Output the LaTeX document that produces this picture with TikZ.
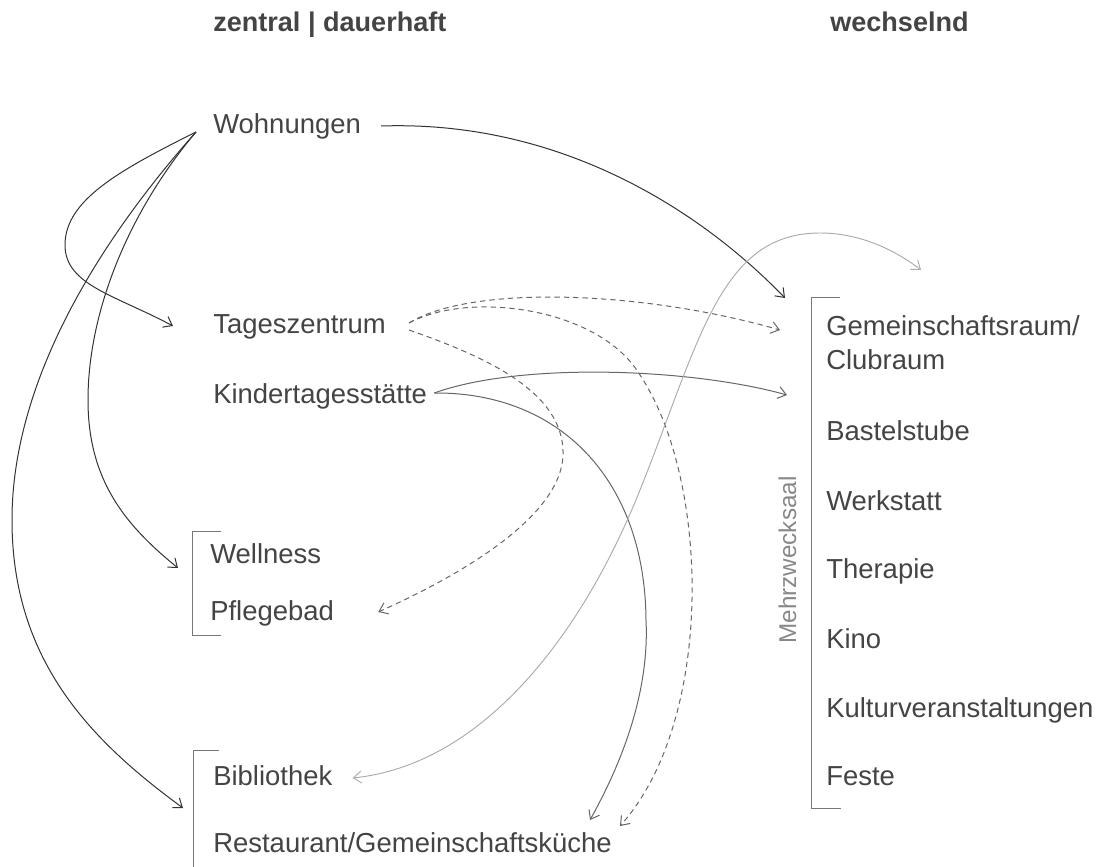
\documentclass[tikz,border=0pt]{standalone}
\usepackage{fontspec}
\setmainfont{Liberation Sans}
\usepackage{tikz}
\usetikzlibrary{arrows.meta}
\definecolor{textgray}{RGB}{68,68,68}
\definecolor{linedark}{RGB}{51,51,51}
\definecolor{linemid}{RGB}{102,102,102}
\definecolor{linelight}{RGB}{170,170,170}
\definecolor{bracketgray}{RGB}{119,119,119}
\definecolor{labelgray}{RGB}{136,136,136}

\begin{document}
\begin{tikzpicture}[
    x=0.75pt, y=-0.75pt,
    every node/.style={inner sep=0pt,text=textgray,font=\fontsize{20.6}{24}\selectfont},
    item/.style={anchor=base west},
    colhead/.style={anchor=base west,font=\fontsize{20.3}{24}\selectfont\bfseries},
    barb/.style={-{Straight Barb[length=6pt,width=9pt]}},
    wohnarr/.style={barb,draw=linedark,line width=0.75pt},
    kitaarr/.style={barb,draw=linemid,line width=0.75pt},
    tagesarr/.style={kitaarr,dash pattern=on 4pt off 3pt},
    bibarr/.style={{Straight Barb[length=6pt,width=9pt]}-{Straight Barb[length=6pt,width=9pt]},draw=linelight,line width=0.7pt},
    bracket/.style={draw=bracketgray,line width=0.75pt}
  ]
    \useasboundingbox (0,0) rectangle (1104,867);

    % column heads
    \node[colhead] (zentral) at (213,32) {zentral | dauerhaft};
    \node[colhead] (wechsel) at (830,32) {wechselnd};

    % left column
    \node[item] (wohn) at (213,133) {Wohnungen};
    \node[item] (tages) at (213,333) {Tageszentrum};
    \node[item] (kita) at (213,403) {Kindertagesstätte};
    \node[item] (well) at (210,563) {Wellness};
    \node[item] (pflege) at (210,620) {Pflegebad};
    \node[item] (biblio) at (213,785) {Bibliothek};
    \node[item] (resto) at (213,852) {Restaurant/Gemeinschaftsküche};

    % right column
    \node[item] (gemraum) at (826,335) {Gemeinschaftsraum/};
    \node[item] (clubraum) at (826,369) {Clubraum};
    \node[item] (bastel) at (826,440) {Bastelstube};
    \node[item] (werk) at (826,510) {Werkstatt};
    \node[item] (thera) at (826,578) {Therapie};
    \node[item] (kino) at (826,648) {Kino};
    \node[item] (kultur) at (826,717) {Kulturveranstaltungen};
    \node[item] (feste) at (826,785) {Feste};
    \node[anchor=base,rotate=90,text=labelgray,font=\fontsize{18.2}{22}\selectfont] (mzs) at (796,560) {Mehrzwecksaal};

    % brackets
    \draw[bracket] (221,531) -| (192,635) -- (221,635);
    \draw[bracket] (219,750) -| (193,867);
    \draw[bracket] (840,297) -| (811,808) -- (841,808);

    % ends of the connectors
    \coordinate (wohnL) at ([shift={(-17,-1)}]wohn.base west);
    \coordinate (wohnR) at ([shift={(20,-7)}]wohn.base east);
    \coordinate (tagesA) at ([shift={(23,-10)}]tages.base east);
    \coordinate (tagesB) at ([shift={(23,-3)}]tages.base east);
    \coordinate (kitaR) at ([shift={(7,-10)}]kita.base east);
    \coordinate (offEnd) at (921,270);

    % Wohnungen
    \draw[wohnarr] (wohnL) .. controls (120,170) and (65,200) .. (65,245)
        .. controls (65,285) and (115,295) .. ([shift={(-40,-7)}]tages.base west);
    \draw[wohnarr] (wohnL) .. controls (130,210) and (88,310) .. (88,400)
        .. controls (88,480) and (125,525) .. ([shift={(-32,5)}]well.base west);
    \draw[wohnarr] (wohnL) .. controls (100,240) and (12,380) .. (12,520)
        .. controls (12,660) and (90,740) .. ([shift={(-30,23)}]biblio.base west);
    \draw[wohnarr] (wohnR) .. controls (560,120) and (700,210) .. ([shift={(-41,-37)}]gemraum.base west);

    % Tageszentrum
    \draw[tagesarr] (tagesA) .. controls (470,285) and (640,290) .. ([shift={(-46,-5)}]gemraum.base west);
    \draw[tagesarr] (tagesA) .. controls (470,290) and (600,308) .. (640,375)
        .. controls (710,480) and (715,720) .. ([shift={(407,-26)}]resto.base west);
    \draw[tagesarr] (tagesB) .. controls (480,355) and (565,390) .. (563,455)
        .. controls (561,520) and (450,580) .. ([shift={(44,-8)}]pflege.base east);

    % Kindertagesstaette
    \draw[kitaarr] (kitaR) .. controls (520,362) and (690,368) .. ([shift={(-39,26)}]clubraum.base west);
    \draw[kitaarr] (kitaR) .. controls (560,392) and (645,480) .. (646,620)
        .. controls (650,700) and (615,775) .. ([shift={(377,-32)}]resto.base west);

    % Bibliothek
    \draw[bibarr] ([shift={(20,-7)}]biblio.base east) .. controls (480,765) and (580,640) .. (640,490)
        .. controls (700,340) and (720,233) .. (820,233)
        .. controls (860,233) and (895,250) .. (offEnd);
\end{tikzpicture}
\end{document}
